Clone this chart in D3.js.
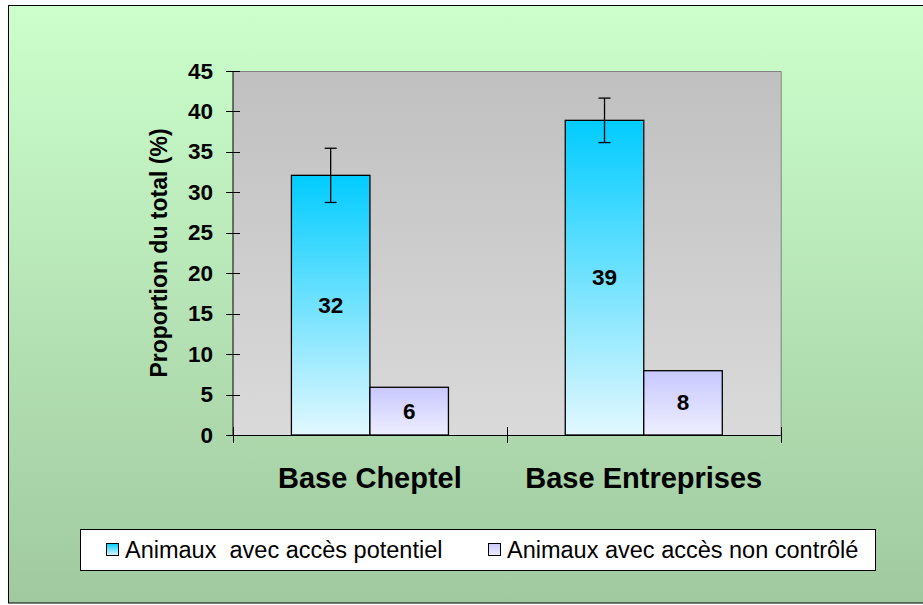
<!DOCTYPE html>
<html>
<head>
<meta charset="utf-8">
<script src="https://cdn.jsdelivr.net/npm/d3@7"></script>
<style>
html,body{margin:0;padding:0;background:#fff;}
svg{display:block;}
text{font-family:"Liberation Sans",Arial,sans-serif;fill:#000;}
</style>
</head>
<body>
<svg id="chart" width="923" height="605"></svg>
<script>
const categories = ["Base Cheptel", "Base Entreprises"];
const seriesNames = ["Animaux  avec accès potentiel", "Animaux avec accès non contrôlé"];
const potentielValues = [32.1, 38.9];
const potentielErrors = [3.35, 2.75];
const nonControleValues = [5.9, 7.95];
const yTicks = [0, 5, 10, 15, 20, 25, 30, 35, 40, 45];
const yTitle = "Proportion du total (%)";

const svg = d3.select("#chart");
const defs = svg.append("defs");

function vGrad(id, c1, c2) {
  const g = defs.append("linearGradient").attr("id", id)
    .attr("x1", 0).attr("y1", 0).attr("x2", 0).attr("y2", 1);
  g.append("stop").attr("offset", "0%").attr("stop-color", c1);
  g.append("stop").attr("offset", "100%").attr("stop-color", c2);
}
vGrad("bgGrad", "#ccffcc", "#a0c9a0");
vGrad("plotGrad", "#c0c0c0", "#dadada");
vGrad("blueGrad", "#00ccff", "#e2f8ff");
vGrad("lavGrad", "#c8c8ff", "#eeeeff");

// outer background
svg.append("rect").attr("x", 8.5).attr("y", 5.5).attr("width", 930).attr("height", 597.5)
  .attr("fill", "url(#bgGrad)").attr("stroke", "#000").attr("stroke-width", 1);

const plot = {left: 233, right: 780.7, top: 71, bottom: 435};

const y = d3.scaleLinear().domain([0, 45]).range([plot.bottom, plot.top]);
const x0 = d3.scaleBand().domain(categories).range([plot.left, plot.right]).paddingInner(0).paddingOuter(0);
const x1 = d3.scaleBand().domain(seriesNames).range([0, x0.bandwidth()]).paddingInner(0).paddingOuter(0.744);

// plot area
svg.append("rect").attr("x", plot.left).attr("y", plot.top)
  .attr("width", plot.right - plot.left).attr("height", plot.bottom - plot.top)
  .attr("fill", "url(#plotGrad)");
svg.append("path")
  .attr("d", `M${plot.left},${plot.top + 0.5}H${plot.right + 0.5}V${plot.bottom}`)
  .attr("fill", "none").attr("stroke", "#808080").attr("stroke-width", 1);

// bars
const fills = ["url(#blueGrad)", "url(#lavGrad)"];
const seriesData = [potentielValues, nonControleValues];
const groups = svg.append("g");
categories.forEach((cat, ci) => {
  seriesNames.forEach((s, si) => {
    const v = seriesData[si][ci];
    const bx = x0(cat) + x1(s);
    groups.append("rect")
      .attr("x", bx).attr("y", y(v))
      .attr("width", x1.bandwidth()).attr("height", y(0) - y(v))
      .attr("fill", fills[si]).attr("stroke", "#000").attr("stroke-width", 1.3);
  });
});

// error bars
categories.forEach((cat, ci) => {
  const cx = x0(cat) + x1(seriesNames[0]) + x1.bandwidth() / 2;
  const v = potentielValues[ci], e = potentielErrors[ci];
  const g = svg.append("g").attr("stroke", "#000").attr("stroke-width", 1.3);
  g.append("line").attr("x1", cx).attr("x2", cx).attr("y1", y(v + e)).attr("y2", y(v - e));
  g.append("line").attr("x1", cx - 6).attr("x2", cx + 6).attr("y1", y(v + e)).attr("y2", y(v + e));
  g.append("line").attr("x1", cx - 6).attr("x2", cx + 6).attr("y1", y(v - e)).attr("y2", y(v - e));
});

// data labels
categories.forEach((cat, ci) => {
  seriesNames.forEach((s, si) => {
    const v = seriesData[si][ci];
    svg.append("text")
      .attr("x", x0(cat) + x1(s) + x1.bandwidth() / 2)
      .attr("y", (y(v) + y(0)) / 2)
      .attr("text-anchor", "middle").attr("dominant-baseline", "central")
      .attr("font-size", 22.5).attr("font-weight", "bold")
      .text(Math.round(v));
  });
});

// y axis
const yAxisG = svg.append("g");
yAxisG.append("line").attr("x1", plot.left).attr("x2", plot.left)
  .attr("y1", plot.top).attr("y2", plot.bottom).attr("stroke", "#000").attr("stroke-width", 1);
yTicks.forEach(t => {
  yAxisG.append("line").attr("x1", plot.left - 7).attr("x2", plot.left + 7)
    .attr("y1", Math.round(y(t)) + 0.5).attr("y2", Math.round(y(t)) + 0.5)
    .attr("stroke", "#000").attr("stroke-width", 1);
  yAxisG.append("text").attr("x", 213).attr("y", y(t))
    .attr("text-anchor", "end").attr("dominant-baseline", "central")
    .attr("font-size", 22.5).attr("font-weight", "bold").text(t);
});

// x axis
const xAxisG = svg.append("g");
xAxisG.append("line").attr("x1", plot.left).attr("x2", plot.right)
  .attr("y1", plot.bottom + 0.5).attr("y2", plot.bottom + 0.5).attr("stroke", "#000").attr("stroke-width", 1);
const xTickPos = [plot.left, x0(categories[1]), plot.right];
xTickPos.forEach(px => {
  xAxisG.append("line").attr("x1", Math.round(px) + 0.5).attr("x2", Math.round(px) + 0.5)
    .attr("y1", plot.bottom - 8).attr("y2", plot.bottom + 8).attr("stroke", "#000").attr("stroke-width", 1);
});
categories.forEach(cat => {
  xAxisG.append("text").attr("x", x0(cat) + x0.bandwidth() / 2).attr("y", 488)
    .attr("text-anchor", "middle").attr("font-size", 29).attr("font-weight", "bold").text(cat);
});

// y title
svg.append("text").attr("transform", `translate(167,${(plot.top + plot.bottom) / 2}) rotate(-90)`)
  .attr("text-anchor", "middle").attr("font-size", 23).attr("font-weight", "bold").text(yTitle);

// legend
const leg = svg.append("g");
leg.append("rect").attr("x", 80.5).attr("y", 529.5).attr("width", 795).attr("height", 41)
  .attr("fill", "#fff").attr("stroke", "#000").attr("stroke-width", 1);
const legX = [106, 488];
seriesNames.forEach((s, i) => {
  leg.append("rect").attr("x", legX[i] + 0.5).attr("y", 543.5).attr("width", 12).attr("height", 12)
    .attr("fill", fills[i]).attr("stroke", "#000").attr("stroke-width", 1);
  leg.append("text").attr("x", legX[i] + 19).attr("y", 550)
    .attr("dominant-baseline", "central").attr("font-size", 23.5)
    .style("white-space", "pre").text(s);
});
</script>
</body>
</html>
